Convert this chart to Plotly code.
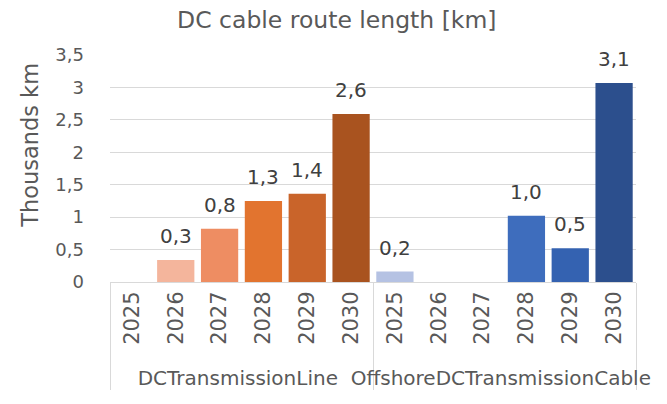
import plotly.graph_objects as go

groups = ["DCTransmissionLine"] * 6 + ["OffshoreDCTransmissionCable"] * 6
years = ["2025", "2026", "2027", "2028", "2029", "2030"] * 2
values = [0, 0.34, 0.82, 1.25, 1.36, 2.59,
          0.16, 0, 0, 1.02, 0.52, 3.07]
labels = ["", "0,3", "0,8", "1,3", "1,4", "2,6",
          "0,2", "", "", "1,0", "0,5", "3,1"]
colors = ["#F4B59C", "#F4B59C", "#EE8D62", "#E2742F", "#C9642A", "#A9531F",
          "#B5C2E3", "#B5C2E3", "#B5C2E3", "#3E6DBD", "#3462B1", "#2C4F8D"]

font_name = "DejaVu Sans"
grey = "#595959"

# group names are drawn a touch smaller than the year ticks
group_ticks = ["<span style='font-size:20px'>%s</span>" % g for g in groups]

fig = go.Figure(
    go.Bar(
        x=[group_ticks, years],
        y=values,
        marker=dict(color=colors, line=dict(width=0)),
        hoverinfo="skip",
    )
)

# value labels above the bars, a bit further out than plotly's default text pad
value_notes = [
    dict(
        x=i, y=v, xref="x", yref="y",
        text=t, showarrow=False,
        xanchor="center", yanchor="bottom", yshift=10,
        font=dict(size=20, color="#404040"),
    )
    for i, (v, t) in enumerate(zip(values, labels)) if t
]

fig.update_layout(
    width=667,
    height=404,
    paper_bgcolor="white",
    plot_bgcolor="white",
    separators=",.",
    font=dict(family=font_name, color=grey),
    title=dict(
        text="DC cable route length [km]",
        x=0.505,
        xanchor="center",
        y=0.95,
        yanchor="middle",
        font=dict(size=23.5, color=grey),
    ),
    margin=dict(l=110, r=31, t=55, b=122),
    bargap=0.15,
    showlegend=False,
    annotations=value_notes + [
        dict(
            text="Thousands km",
            xref="paper", yref="paper",
            x=-0.152, y=0.6,
            xanchor="center", yanchor="middle",
            textangle=-90,
            showarrow=False,
            font=dict(size=22.5, color=grey),
        )
    ],
)

fig.update_yaxes(
    range=[0, 3.5],
    dtick=0.5,
    tickformat=",.1~f",
    showgrid=True,
    gridcolor="#D9D9D9",
    gridwidth=1,
    zeroline=False,
    showline=False,
    ticks="",
    ticklabelstandoff=25,
    automargin=False,
    tickfont=dict(size=18, color=grey),
)

fig.update_xaxes(
    type="multicategory",
    tickangle=-90,
    tickfont=dict(size=21, color=grey),
    showline=True,
    linecolor="#D9D9D9",
    showdividers=True,
    dividercolor="#D9D9D9",
    dividerwidth=1,
    ticks="",
    automargin=False,
)

fig.write_html(
    "out.html",
    config={"displayModeBar": False},
    post_script="document.body.style.margin='0';",
)
